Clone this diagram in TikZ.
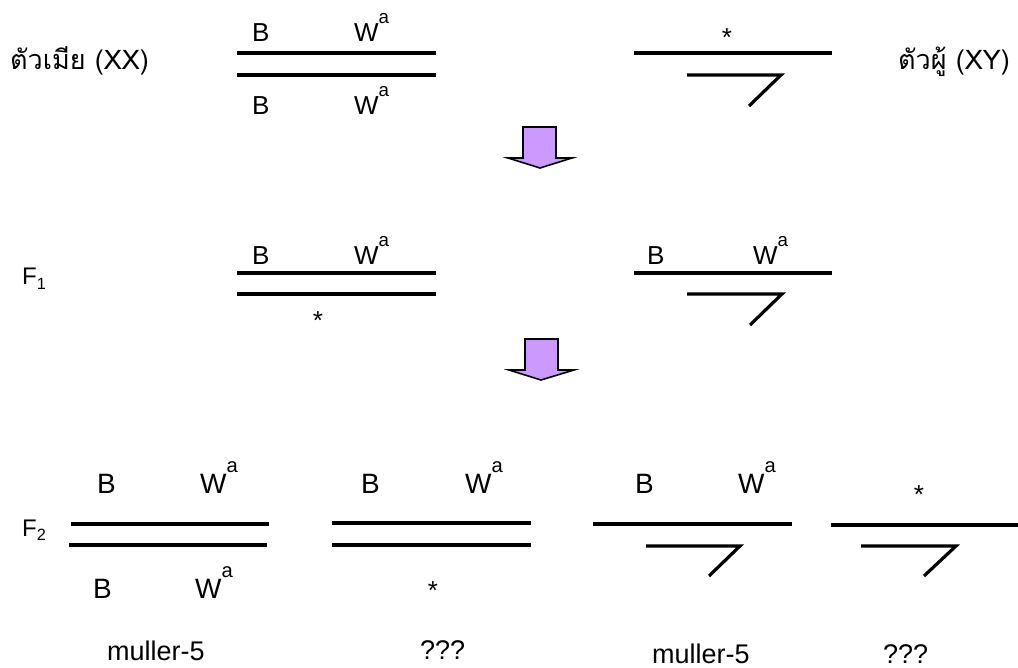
\documentclass[tikz,border=0pt]{standalone}
\usepackage{fontspec}
\usepackage{graphicx}
\setmainfont{Liberation Sans}
\newfontfamily\thaifont[Script=Thai]{Loma}
\definecolor{arrowpurple}{HTML}{CC99FF}
\tikzset{
  chrom/.style={line width=3.2pt, line join=miter},
  lbl/.style={inner sep=0pt, anchor=base west, font=\fontsize{26}{30}\selectfont},
  lblb/.style={inner sep=0pt, anchor=base west, font=\fontsize{28}{32}\selectfont},
  starlbl/.style={inner sep=0pt, anchor=base, font=\fontsize{26}{30}\selectfont},
  thailbl/.style={inner sep=0pt, anchor=base west, font=\thaifont\fontsize{27}{32}\selectfont},
  genlbl/.style={inner sep=0pt, anchor=base west, font=\fontsize{24}{28}\selectfont},
  botlbl/.style={inner sep=0pt, anchor=base west, font=\fontsize{27}{32}\selectfont},
  bigarrow/.style={draw=black, line width=1.6pt, fill=arrowpurple, line join=miter},
}
\newcommand\Wa{W\raisebox{0.73em}{\scalebox{0.72}{a}}}
\newcommand\subF[1]{F\raisebox{-0.2em}{\scalebox{0.68}{#1}}}
\begin{document}
\begin{tikzpicture}[x=1pt,y=-1pt]
\useasboundingbox (0,0) rectangle (1018,668);
% ---- P generation ----
\node[thailbl] (female) at (10,70) {ตัวเมีย (XX)};
\node[thailbl] (male) at (898,70) {ตัวผู้ (XY)};
\draw[chrom] (237,53) -- (436,53);
\draw[chrom] (237,75) -- (436,75);
\node[lbl] (pB1) at (252,42) {B};
\node[lbl] (pW1) at (354,42) {\Wa};
\node[lbl] (pB2) at (252,115) {B};
\node[lbl] (pW2) at (354,115) {\Wa};
\draw[chrom] (634,53) -- (832,53);
\draw[chrom] (687,75) -- (781,75) -- (749,106);
\node[starlbl] (pS) at (727,47) {*};
% ---- arrow 1 ----
\draw[bigarrow] (523,127) -- (556,127) -- (556,158) -- (572,158) -- (540,168) -- (508,158) -- (523,158) -- cycle;
% ---- F1 ----
\node[genlbl] (F1) at (22,285) {\subF{1}};
\draw[chrom] (237,273) -- (436,273);
\draw[chrom] (237,294) -- (436,294);
\node[lbl] (f1B) at (252,265) {B};
\node[lbl] (f1W) at (354,265) {\Wa};
\node[starlbl] (f1S) at (318,330) {*};
\draw[chrom] (634,273) -- (832,273);
\draw[chrom] (687,294) -- (782,294) -- (750,325);
\node[lbl] (f1mB) at (647,265) {B};
\node[lbl] (f1mW) at (753,265) {\Wa};
% ---- arrow 2 ----
\draw[bigarrow] (525,339) -- (558,339) -- (558,370) -- (574,370) -- (541,380) -- (509,370) -- (525,370) -- cycle;
% ---- F2 ----
\node[genlbl] (F2) at (22,536) {\subF{2}};
\draw[chrom] (71,524) -- (269,524);
\draw[chrom] (69,545) -- (267,545);
\node[lblb] (a1B) at (97,493) {B};
\node[lblb] (a1W) at (200,493) {\Wa};
\node[lblb] (a2B) at (93,598) {B};
\node[lblb] (a2W) at (195,598) {\Wa};
\draw[chrom] (332,523) -- (531,523);
\draw[chrom] (332,545) -- (531,545);
\node[lblb] (bB) at (361,493) {B};
\node[lblb] (bW) at (465,493) {\Wa};
\node[starlbl] (bS) at (433,599) {*};
\draw[chrom] (593,524) -- (792,524);
\draw[chrom] (646,546) -- (740,546) -- (709,576);
\node[lblb] (cB) at (635,493) {B};
\node[lblb] (cW) at (738,493) {\Wa};
\draw[chrom] (831,525) -- (1018,525);
\draw[chrom] (861,546) -- (956,546) -- (924,576);
\node[starlbl] (dS) at (919,503) {*};
% ---- bottom labels ----
\node[botlbl] (m1) at (107,660) {muller-5};
\node[botlbl] (q1) at (420,659) {???};
\node[botlbl] (m2) at (652,663) {muller-5};
\node[botlbl] (q2) at (883,663) {???};
\end{tikzpicture}
\end{document}
